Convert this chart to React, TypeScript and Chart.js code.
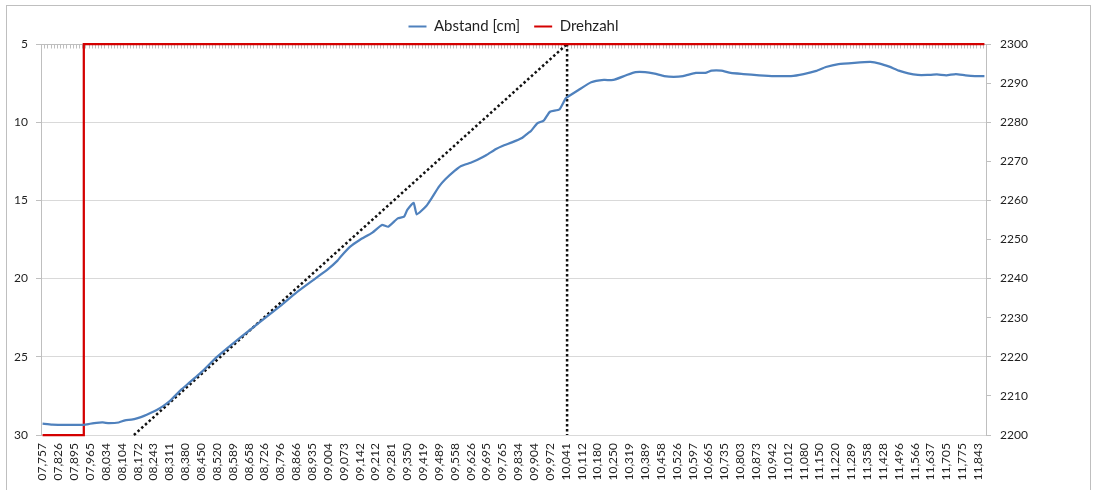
import React, { useEffect, useRef } from "react";
import { Chart, registerables } from "chart.js";

Chart.register(...registerables);
Chart.defaults.font.family = "Lato, 'Open Sans', sans-serif";

// Category tick labels (every 5th category is labelled)
const TIME_LABELS = [
  "07,757", "07,826", "07,895", "07,965", "08,034", "08,104", "08,172", "08,243", "08,311", "08,380",
  "08,450", "08,520", "08,589", "08,658", "08,726", "08,796", "08,866", "08,935", "09,004", "09,073",
  "09,142", "09,212", "09,281", "09,350", "09,419", "09,489", "09,558", "09,626", "09,695", "09,765",
  "09,834", "09,904", "09,972", "10,041", "10,112", "10,180", "10,250", "10,319", "10,389", "10,458",
  "10,526", "10,597", "10,665", "10,735", "10,803", "10,873", "10,942", "11,012", "11,080", "11,150",
  "11,220", "11,289", "11,358", "11,428", "11,496", "11,566", "11,637", "11,705", "11,775", "11,843",
];
const CATEGORY_COUNT = 298;
const LABEL_EVERY = 5;

// Abstand [cm] (left axis, reversed) sampled at category indices
const ABSTAND_AT = [
  0, 3, 8, 13, 15, 17, 19, 21, 24, 26, 28, 30, 32, 34, 36, 38, 40, 42, 44, 46, 48, 50, 53, 55,
  60, 65, 70, 75, 80, 86, 90, 93, 94, 97, 100, 104, 107, 109, 112, 114, 115, 117, 118, 121, 123,
  125, 127, 130, 132, 135, 137, 140, 143, 145, 148, 151, 153, 154, 156, 158, 160, 163, 165, 167,
  169, 173, 177, 180, 184, 187, 190, 193, 196, 199, 202, 206, 209, 211, 214, 217, 221, 226, 231,
  236, 240, 244, 247, 251, 256, 261, 264, 267, 270, 273, 276, 279, 282, 285, 288, 291, 294, 297,
];
const ABSTAND = [
  29.27, 29.33, 29.35, 29.35, 29.28, 29.22, 29.2, 29.24, 29.2, 29.06, 29.02, 28.92, 28.78, 28.6,
  28.4, 28.15, 27.85, 27.45, 27.05, 26.7, 26.35, 26.0, 25.4, 25.0,
  24.15, 23.35, 22.55, 21.75, 20.9, 20.0, 19.4, 18.85, 18.6, 17.96, 17.53, 17.06, 16.57, 16.68,
  16.15, 16.04, 15.61, 15.15, 15.89, 15.36, 14.76,
  14.12, 13.65, 13.1, 12.8, 12.59, 12.42, 12.1, 11.71, 11.52, 11.29, 11.03, 10.71, 10.56, 10.07,
  9.9, 9.33, 9.18, 8.47, 8.2,
  7.94, 7.45, 7.3, 7.3, 7.0, 6.8, 6.8, 6.9, 7.05, 7.1, 7.05, 6.85, 6.85, 6.7, 6.7, 6.85, 6.92,
  7.0, 7.05,
  7.05, 6.92, 6.72, 6.47, 6.28, 6.2, 6.15, 6.25, 6.45, 6.7, 6.88, 6.98, 6.98, 6.95, 7.0, 6.92,
  7.0, 7.05, 7.05,
];

// Drehzahl (right axis)
const DREHZAHL_AT = [0, 13, 13, 297];
const DREHZAHL = [2200, 2200, 2300, 2300];

// Dotted helper lines (left axis)
const TREND_AT = [28.8, 165.4];
const TREND = [30, 5];
const MARKER_AT = [165.4, 165.4];
const MARKER = [5, 30];

const TEXT_COLOR = "#1f1f1f";
const AXIS_COLOR = "#bfbfbf";
const GRID_COLOR = "#d9d9d9";

const toPoints = (xs: number[], ys: number[]) => xs.map((x, i) => ({ x, y: ys[i] }));

const topAxisPlugin = {
  id: "topCategoryAxis",
  beforeDatasetsDraw(chart: any) {
    const { ctx, chartArea } = chart;
    const xs = chart.scales.x;
    const y = Math.round(chartArea.top) + 0.5;
    ctx.save();
    ctx.strokeStyle = AXIS_COLOR;
    ctx.lineWidth = 1;
    ctx.beginPath();
    ctx.moveTo(chartArea.left, y);
    ctx.lineTo(chartArea.right, y);
    for (let i = 0; i <= CATEGORY_COUNT; i++) {
      const px = Math.round(xs.getPixelForValue(i - 0.5)) + 0.5;
      ctx.moveTo(px, y);
      ctx.lineTo(px, y + 4);
    }
    ctx.stroke();
    ctx.restore();
  },
};

export default function App() {
  const ref = useRef<HTMLCanvasElement>(null);

  useEffect(() => {
    document.body.style.margin = "0";
    const tickFont = { family: "Lato, 'Open Sans', sans-serif", size: 12 };
    const chart = new Chart(ref.current as HTMLCanvasElement, {
      type: "line",
      data: {
        datasets: [
          {
            label: "Abstand [cm]",
            data: toPoints(ABSTAND_AT, ABSTAND),
            borderColor: "#4f81bd",
            backgroundColor: "#4f81bd",
            borderWidth: 2.25,
            pointRadius: 0,
            tension: 0.15,
            yAxisID: "y",
            clip: 4,
          },
          {
            label: "Drehzahl",
            data: toPoints(DREHZAHL_AT, DREHZAHL),
            borderColor: "#d40000",
            backgroundColor: "#d40000",
            borderWidth: 2.25,
            pointRadius: 0,
            yAxisID: "y2",
            clip: 4,
          },
          {
            label: "Trend",
            data: toPoints(TREND_AT, TREND),
            borderColor: "#111111",
            borderWidth: 2.5,
            borderDash: [2.5, 2.5],
            pointRadius: 0,
            yAxisID: "y",
            clip: 4,
          },
          {
            label: "Marker",
            data: toPoints(MARKER_AT, MARKER),
            borderColor: "#111111",
            borderWidth: 2.5,
            borderDash: [2.5, 2.5],
            pointRadius: 0,
            yAxisID: "y",
            clip: 4,
          },
        ],
      },
      options: {
        responsive: false,
        animation: false,
        devicePixelRatio: 1,
        events: [],
        layout: { padding: { top: 5, left: 0, right: 0, bottom: 0 } },
        plugins: {
          tooltip: { enabled: false },
          legend: {
            position: "top",
            fullSize: false,
            labels: {
              font: { family: "Lato, 'Open Sans', sans-serif", size: 15 },
              color: TEXT_COLOR,
              boxWidth: 18,
              boxHeight: 2,
              padding: 14,
              filter: (item: any) => item.datasetIndex <= 1,
              generateLabels: (c: any) =>
                (Chart.defaults.plugins.legend.labels as any)
                  .generateLabels(c)
                  .map((l: any) => ({ ...l, fillStyle: l.strokeStyle, lineWidth: 0, lineDash: [] })),
            },
          },
        },
        scales: {
          x: {
            type: "linear",
            position: "bottom",
            min: -0.5,
            max: CATEGORY_COUNT - 0.5,
            afterBuildTicks: (axis: any) => {
              axis.ticks = TIME_LABELS.map((_, k) => ({ value: k * LABEL_EVERY }));
            },
            afterFit: (axis: any) => {
              axis.height = 55;
            },
            grid: { display: false, drawTicks: false },
            border: { display: true, color: GRID_COLOR },
            ticks: {
              autoSkip: false,
              minRotation: 90,
              maxRotation: 90,
              padding: 8,
              font: tickFont,
              color: TEXT_COLOR,
              callback: (v: any) => TIME_LABELS[Math.round(Number(v) / LABEL_EVERY)] ?? "",
            },
          },
          y: {
            type: "linear",
            position: "left",
            reverse: true,
            min: 5,
            max: 30,
            afterFit: (axis: any) => {
              axis.width = 41;
            },
            ticks: {
              stepSize: 5,
              padding: 8,
              font: tickFont,
              color: TEXT_COLOR,
              callback: (v: any) => String(v),
            },
            grid: { color: GRID_COLOR, tickLength: 5, tickColor: AXIS_COLOR },
            border: { display: true, color: AXIS_COLOR },
          },
          y2: {
            type: "linear",
            position: "right",
            min: 2200,
            max: 2300,
            afterFit: (axis: any) => {
              axis.width = 111;
            },
            ticks: {
              stepSize: 10,
              padding: 9,
              font: tickFont,
              color: TEXT_COLOR,
              callback: (v: any) => String(v),
            },
            grid: { drawOnChartArea: false, tickLength: 5, color: AXIS_COLOR },
            border: { display: true, color: AXIS_COLOR },
          },
        },
      },
      plugins: [topAxisPlugin],
    } as any);
    return () => chart.destroy();
  }, []);

  return (
    <div style={{ position: "relative", width: 1097, height: 490, overflow: "hidden", background: "#fff" }}>
      <div
        style={{
          position: "absolute",
          left: 6,
          top: 5,
          width: 1085,
          height: 520,
          border: `1px solid ${AXIS_COLOR}`,
          boxSizing: "border-box",
        }}
      />
      <canvas
        ref={ref}
        width={1097}
        height={490}
        style={{ position: "absolute", left: 0, top: 0, width: 1097, height: 490 }}
      />
    </div>
  );
}
